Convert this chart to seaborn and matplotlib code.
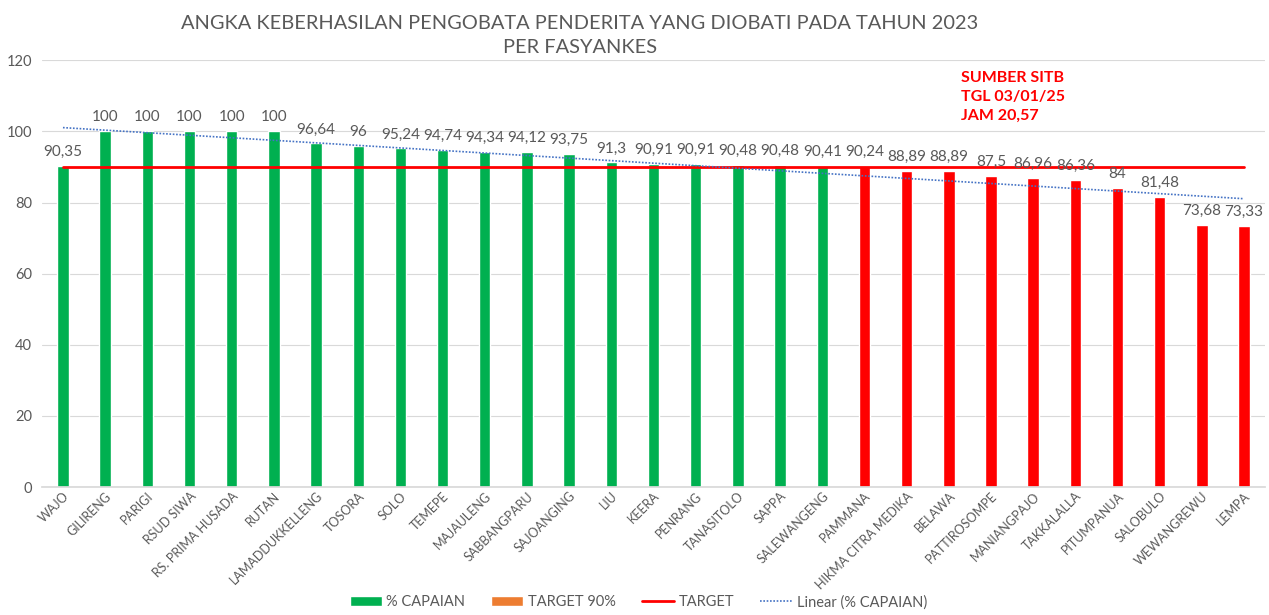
import numpy as np
import pandas as pd
import matplotlib
matplotlib.use("Agg")
import matplotlib.pyplot as plt
import seaborn as sns
from matplotlib.patches import Patch
from matplotlib.lines import Line2D

# data
fasyankes = [
    "WAJO", "GILIRENG", "PARIGI", "RSUD SIWA", "RS. PRIMA HUSADA", "RUTAN",
    "LAMADDUKKELLENG", "TOSORA", "SOLO", "TEMEPE", "MAJAULENG", "SABBANGPARU",
    "SAJOANGING", "LIU", "KEERA", "PENRANG", "TANASITOLO", "SAPPA",
    "SALEWANGENG", "PAMMANA", "HIKMA CITRA MEDIKA", "BELAWA", "PATTIROSOMPE",
    "MANIANGPAJO", "TAKKALALLA", "PITUMPANUA", "SALOBULO", "WEWANGREWU", "LEMPA",
]
capaian = [
    90.35, 100, 100, 100, 100, 100, 96.64, 96, 95.24, 94.74, 94.34, 94.12,
    93.75, 91.3, 90.91, 90.91, 90.48, 90.48, 90.41, 90.24, 88.89, 88.89, 87.5,
    86.96, 86.36, 84, 81.48, 73.68, 73.33,
]
status = ["capai"] * 19 + ["belum"] * 10
target = 90

GREEN = "#00B050"
RED = "#FF0000"
ORANGE = "#ED7D31"
BLUE = "#4472C4"
GREY = "#595959"

df = pd.DataFrame({"fasyankes": fasyankes, "capaian": capaian, "status": status})

sns.set_theme(style="white")
plt.rcParams["font.family"] = ["Lato", "DejaVu Sans"]

fig = plt.figure(figsize=(12.69, 6.15), dpi=100)
ax = fig.add_axes([0.033, 0.208, 0.964, 0.694])

sns.barplot(data=df, x="fasyankes", y="capaian", hue="status",
            palette={"capai": GREEN, "belum": RED}, width=0.27, saturation=1,
            dodge=False, legend=False, ax=ax, zorder=2)

pos = np.arange(len(fasyankes))

# target line
ax.plot(pos, [target] * len(pos), color=RED, lw=2, zorder=3)

# linear trendline (like Excel)
k, b = np.polyfit(pos + 1, capaian, 1)
ax.plot(pos, k * (pos + 1) + b, color=BLUE, lw=1.2, ls=(0, (1, 1)), zorder=4)

# data labels
for x, v in zip(pos, capaian):
    ax.annotate(f"{v:g}".replace(".", ","), (x, v), xytext=(0, 5),
                textcoords="offset points", ha="center", va="bottom",
                fontsize=11, color=GREY)

ax.set_ylim(0, 120)
ax.set_yticks(range(0, 121, 20))
ax.set_xlim(-0.5, len(pos) - 0.5)
ax.yaxis.grid(True, color="#D9D9D9", lw=0.8)
ax.set_axisbelow(True)
for s in ax.spines.values():
    s.set_visible(False)
ax.spines["bottom"].set_visible(True)
ax.spines["bottom"].set_color("#D9D9D9")
ax.set_xlabel("")
ax.set_ylabel("")
ax.tick_params(axis="y", labelsize=10.5, colors=GREY, length=0, pad=7)
ax.tick_params(axis="x", labelsize=9, colors=GREY, length=0, pad=2)
plt.setp(ax.get_xticklabels(), rotation=45, ha="right", rotation_mode="anchor")

fig.text(0.457, 0.943, "ANGKA KEBERHASILAN PENGOBATA PENDERITA YANG DIOBATI PADA TAHUN 2023\nPER FASYANKES",
         ha="center", va="center", fontsize=14.4, color=GREY, linespacing=1.5)

ax.text(0.751, 0.975, "SUMBER SITB\nTGL 03/01/25\nJAM 20,57", transform=ax.transAxes,
        ha="left", va="top", fontsize=11.5, fontweight="bold", color=RED, linespacing=1.45)

handles = [
    Patch(facecolor=GREEN, label="% CAPAIAN"),
    Patch(facecolor=ORANGE, label="TARGET 90%"),
    Line2D([], [], color=RED, lw=2, label="TARGET"),
    Line2D([], [], color=BLUE, lw=1.2, ls=(0, (1, 1)), label="Linear (% CAPAIAN)"),
]
leg = fig.legend(handles=handles, loc="lower center", bbox_to_anchor=(0.503, -0.012),
                 ncol=4, frameon=False, fontsize=10.5, handlelength=2.2, handleheight=0.6,
                 columnspacing=1.8, handletextpad=0.3)
for t in leg.get_texts():
    t.set_color(GREY)

fig.savefig("out.png", dpi=100)
